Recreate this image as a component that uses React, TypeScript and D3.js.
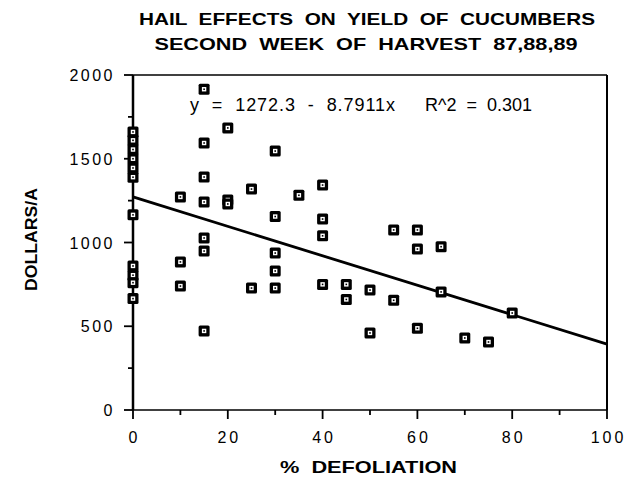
import React, { useEffect, useRef } from "react";
import * as d3 from "d3";

const titleLines = ["HAIL  EFFECTS  ON  YIELD  OF  CUCUMBERS", "SECOND  WEEK  OF  HARVEST  87,88,89"];
const xTitle = "%  DEFOLIATION";
const yTitle = "DOLLARS/A";
const equationText = "y  =  1272.3  -  8.7911x";
const r2Text = "R^2  =  0.301";
const intercept = 1272.3;
const slope = -8.7911;

const defoliation = [
  0, 0, 0, 0, 0, 0, 0, 0, 0, 0, 0,
  10, 10, 10,
  15, 15, 15, 15, 15, 15, 15,
  20, 20, 20,
  25, 25,
  30, 30, 30, 30, 30,
  35,
  40, 40, 40, 40,
  45, 45,
  50, 50,
  55, 55,
  60, 60, 60,
  65, 65,
  70, 75, 80,
];
const dollars = [
  1660, 1610, 1555, 1500, 1445, 1390, 1165, 860, 805, 760, 665,
  1272, 884, 740,
  1915, 1594, 1391, 1242, 1027, 949, 472,
  1684, 1254, 1230,
  1319, 728,
  1546, 1155, 937, 830, 728,
  1282,
  1343, 1140, 1040, 750,
  750, 660,
  716, 460,
  1075, 655,
  1075, 961, 488,
  975, 705,
  430, 406, 579,
];
const xMajorTicks = [0, 20, 40, 60, 80, 100];
const xMinorTicks = [10, 30, 50, 70, 90];
const yMajorTicks = [0, 500, 1000, 1500, 2000];
const yMinorTicks = [250, 750, 1250, 1750];

export default function App() {
  const ref = useRef<SVGSVGElement>(null);
  useEffect(() => {
    const svg = d3.select(ref.current);
    svg.selectAll("*").remove();
    const L = 133, R = 607, T = 75, B = 410;
    const x = d3.scaleLinear().domain([0, 100]).range([L, R]);
    const y = d3.scaleLinear().domain([0, 2000]).range([B, T]);
    const font = "'Liberation Sans', Arial, Helvetica, sans-serif";

    svg.append("rect").attr("width", 629).attr("height", 482).attr("fill", "#fff");

    // titles
    const tw = [456, 423];
    const tc = [367, 366];
    titleLines.forEach((t, i) => {
      svg.append("text")
        .attr("x", tc[i] - tw[i] / 2)
        .attr("y", 25 + i * 25)
        .attr("textLength", tw[i])
        .attr("lengthAdjust", "spacingAndGlyphs")
        .attr("font-family", font)
        .attr("font-weight", "bold")
        .attr("font-size", 17)
        .attr("fill", "#000")
        .style("white-space", "pre")
        .text(t);
    });

    // frame
    svg.append("line").attr("x1", L).attr("x2", R).attr("y1", T).attr("y2", T).attr("stroke", "#000").attr("stroke-width", 1.5);
    svg.append("line").attr("x1", R).attr("x2", R).attr("y1", T).attr("y2", B).attr("stroke", "#000").attr("stroke-width", 2);
    svg.append("line").attr("x1", L).attr("x2", R).attr("y1", B).attr("y2", B).attr("stroke", "#000").attr("stroke-width", 1.5);
    svg.append("line").attr("x1", L).attr("x2", L).attr("y1", T).attr("y2", B).attr("stroke", "#000").attr("stroke-width", 2.5);

    // y ticks
    yMajorTicks.forEach((v) => {
      svg.append("line").attr("x1", L - 9).attr("x2", L).attr("y1", y(v)).attr("y2", y(v)).attr("stroke", "#000").attr("stroke-width", 1.8);
      svg.append("text")
        .attr("x", L - 18)
        .attr("y", y(v) + 6)
        .attr("text-anchor", "end")
        .attr("font-family", font)
        .attr("font-size", 16)
        .attr("letter-spacing", 2.5)
        .attr("fill", "#000")
        .text(String(v));
    });
    yMinorTicks.forEach((v) => {
      svg.append("line").attr("x1", L - 5).attr("x2", L).attr("y1", y(v)).attr("y2", y(v)).attr("stroke", "#000").attr("stroke-width", 1.8);
    });

    // x ticks
    xMajorTicks.forEach((v) => {
      svg.append("line").attr("x1", x(v)).attr("x2", x(v)).attr("y1", B).attr("y2", B + 9).attr("stroke", "#000").attr("stroke-width", 1.8);
      svg.append("text")
        .attr("x", x(v) + 1.5)
        .attr("y", B + 33)
        .attr("text-anchor", "middle")
        .attr("font-family", font)
        .attr("font-size", 16)
        .attr("letter-spacing", 3)
        .attr("fill", "#000")
        .text(String(v));
    });
    xMinorTicks.forEach((v) => {
      svg.append("line").attr("x1", x(v)).attr("x2", x(v)).attr("y1", B).attr("y2", B + 5).attr("stroke", "#000").attr("stroke-width", 1.8);
    });

    // axis titles
    svg.append("text")
      .attr("x", 280)
      .attr("y", 473)
      .attr("textLength", 177)
      .attr("lengthAdjust", "spacingAndGlyphs")
      .attr("font-family", font)
      .attr("font-weight", "bold")
      .attr("font-size", 17)
      .attr("fill", "#000")
      .style("white-space", "pre")
      .text(xTitle);
    svg.append("text")
      .attr("transform", "translate(37,291) rotate(-90)")
      .attr("textLength", 103)
      .attr("lengthAdjust", "spacingAndGlyphs")
      .attr("font-family", font)
      .attr("font-weight", "bold")
      .attr("font-size", 17)
      .attr("fill", "#000")
      .text(yTitle);

    // regression line
    const line = d3.line<number>().x((d) => x(d)).y((d) => y(intercept + slope * d));
    svg.append("path").attr("d", line([0, 100]) as string).attr("fill", "none").attr("stroke", "#000").attr("stroke-width", 2.8);

    // equation
    svg.append("text")
      .attr("x", 190)
      .attr("y", 111)
      .attr("textLength", 205)
      .attr("font-family", font)
      .attr("font-size", 18)
      .attr("fill", "#000")
      .style("white-space", "pre")
      .text(equationText);
    svg.append("text")
      .attr("x", 425)
      .attr("y", 111)
      .attr("font-family", font)
      .attr("font-size", 18)
      .attr("fill", "#000")
      .style("white-space", "pre")
      .text(r2Text);

    // markers
    const pts = defoliation.map((d, i) => [d, dollars[i]] as [number, number]);
    const g = svg.append("g");
    pts.forEach(([dx, dy]) => {
      const cx = x(dx), cy = y(dy);
      g.append("rect").attr("x", cx - 5.5).attr("y", cy - 5.5).attr("width", 11).attr("height", 11).attr("rx", 1.5).attr("fill", "#000");
      g.append("rect").attr("x", cx - 2.2).attr("y", cy - 2.2).attr("width", 4.4).attr("height", 4.4).attr("fill", "#fff");
      g.append("rect").attr("x", cx - 0.8).attr("y", cy - 0.8).attr("width", 1.6).attr("height", 1.6).attr("fill", "#000");
    });
  }, []);
  return (
    <svg ref={ref} width={629} height={482} style={{ position: "absolute", left: 0, top: 0 }} />
  );
}
